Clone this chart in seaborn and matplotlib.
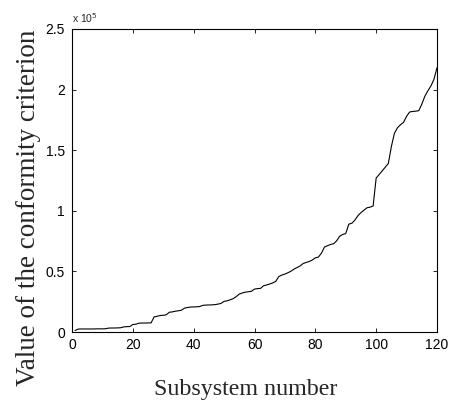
import numpy as np
import pandas as pd
import matplotlib
matplotlib.use("Agg")
import matplotlib.pyplot as plt
import seaborn as sns

# Conformity criterion per subsystem, in units of 1e5 (sorted ascending)
subsystem = list(range(1, 121))
criterion_e5 = [
    0.012, 0.024, 0.025, 0.025, 0.025, 0.025, 0.025, 0.026, 0.026, 0.026,
    0.027, 0.032, 0.033, 0.033, 0.034, 0.035, 0.042, 0.044, 0.045, 0.062,
    0.064, 0.073, 0.074, 0.074, 0.075, 0.075, 0.125, 0.130, 0.136, 0.138,
    0.142, 0.163, 0.166, 0.172, 0.175, 0.180, 0.197, 0.202, 0.206, 0.207,
    0.208, 0.210, 0.220, 0.222, 0.223, 0.224, 0.226, 0.230, 0.236, 0.253,
    0.257, 0.266, 0.275, 0.292, 0.313, 0.322, 0.329, 0.332, 0.336, 0.354,
    0.358, 0.360, 0.382, 0.388, 0.396, 0.405, 0.418, 0.458, 0.470, 0.478,
    0.489, 0.502, 0.519, 0.532, 0.545, 0.565, 0.574, 0.582, 0.594, 0.612,
    0.618, 0.650, 0.701, 0.712, 0.722, 0.728, 0.752, 0.790, 0.805, 0.812,
    0.890, 0.897, 0.923, 0.960, 0.985, 1.005, 1.025, 1.030, 1.040, 1.270,
    1.300, 1.330, 1.360, 1.390, 1.530, 1.640, 1.685, 1.710, 1.730, 1.780,
    1.815, 1.820, 1.822, 1.826, 1.880, 1.945, 1.990, 2.030, 2.085, 2.180,
]
SCALE = 1e5

x_ticks = [0, 20, 40, 60, 80, 100, 120]
y_ticks_e5 = [0, 0.5, 1, 1.5, 2, 2.5]
y_tick_labels = ["0", "0.5", "1", "1.5", "2", "2.5"]

df = pd.DataFrame({
    "subsystem": subsystem,
    "criterion": np.array(criterion_e5) * SCALE,
})

sns.set_theme(style="ticks")
plt.rcParams["font.family"] = ["Liberation Sans", "DejaVu Sans"]

fig = plt.figure(figsize=(4.51, 4.03), dpi=100)
ax = fig.add_axes([72 / 451, 1 - 332 / 403, 365 / 451, 303 / 403])

sns.lineplot(data=df, x="subsystem", y="criterion", ax=ax,
             color="black", linewidth=0.8)

ax.set_xlim(0, 120)
ax.set_ylim(0, 2.5 * SCALE)
ax.set_xticks(x_ticks)
ax.set_xticklabels([str(t) for t in x_ticks])
ax.set_yticks([v * SCALE for v in y_ticks_e5])
ax.set_yticklabels(y_tick_labels)

ax.tick_params(axis="both", which="major", direction="in", length=3,
               width=0.6, labelsize=10, colors="black",
               top=True, right=True)
ax.tick_params(axis="x", pad=4)
ax.tick_params(axis="y", pad=5)
for sp in ax.spines.values():
    sp.set_visible(True)
    sp.set_linewidth(0.8)
    sp.set_color("black")

# exponent marker above the y axis
ax.text(0.0, 1.012, r"x 10$^{5}$", transform=ax.transAxes,
        fontsize=7.5, ha="left", va="bottom", family="Liberation Sans")

serif = ["Liberation Serif", "DejaVu Serif"]
ax.set_xlabel("Subsystem number", fontsize=17.3, family=serif)
ax.set_ylabel("Value of the conformity criterion", fontsize=19.5, family=serif)
ax.xaxis.set_label_coords(0.477, -0.208)
ax.xaxis.label.set_va("baseline")
ax.yaxis.set_label_coords(-0.12, 0.409)
ax.yaxis.label.set_va("center")

fig.savefig("out.png", dpi=100, facecolor="white")
